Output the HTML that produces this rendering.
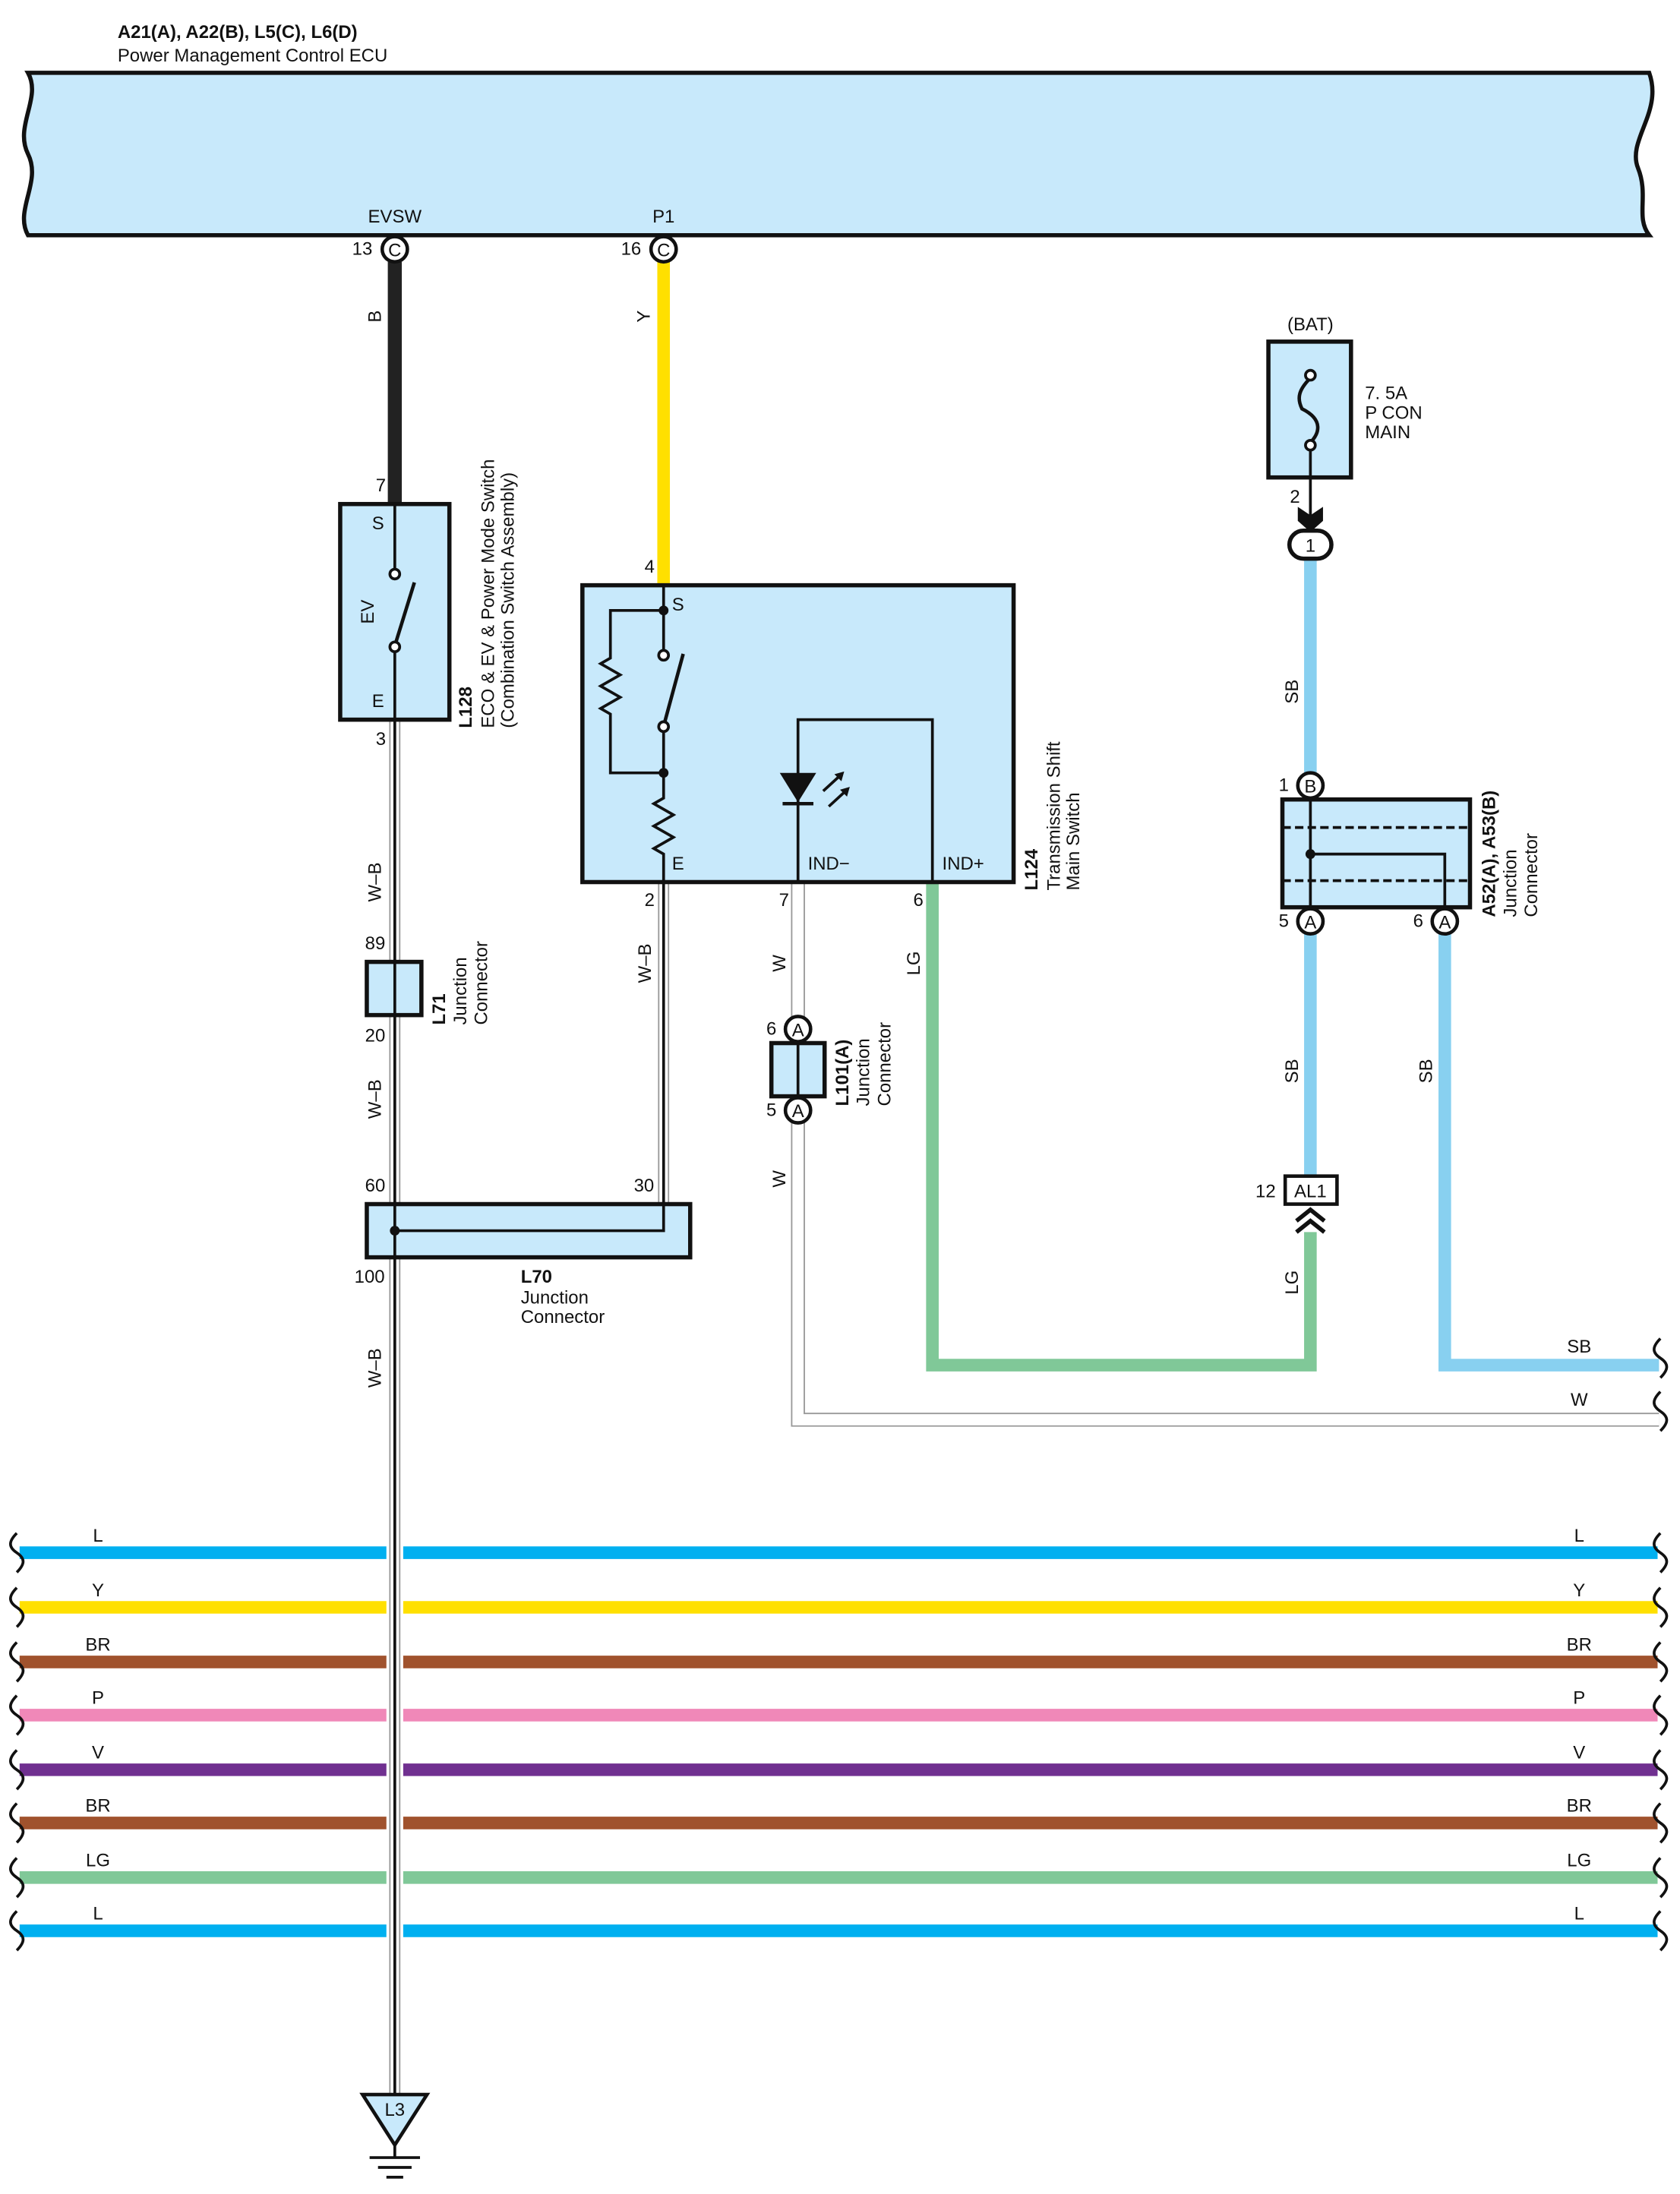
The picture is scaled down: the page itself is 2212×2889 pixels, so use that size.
<!DOCTYPE html>
<html><head><meta charset="utf-8"><style>
html,body{margin:0;padding:0;background:#fff}
svg{display:block}
text{font-family:"Liberation Sans",sans-serif;font-size:13px;fill:#111}
.b{font-weight:bold}
</style></head><body>
<svg width="2212" height="2889" viewBox="0 0 1200 1567" preserveAspectRatio="none" xmlns="http://www.w3.org/2000/svg">
<defs>
<g id="wav"><path d="M0,-14 C-6,-8 -6,-4 0,0 C6,4 6,8 0,14" fill="none" stroke="#111" stroke-width="2"/></g>
</defs>
<!-- Title -->
<text x="84" y="27" class="b">A21(A), A22(B), L5(C), L6(D)</text>
<text x="84" y="44">Power Management Control ECU</text>
<!-- ECU band -->
<path d="M20,52 L1178,52 C1188,80 1162,100 1170,120 C1178,140 1168,155 1178,168 L20,168 C10,150 30,130 20,110 C10,90 30,70 20,52 Z" fill="#c8e9fb" stroke="#111" stroke-width="3"/>
<text x="282" y="159" text-anchor="middle">EVSW</text>
<text x="474" y="159" text-anchor="middle">P1</text>
<!-- wires top -->
<line x1="282" y1="187" x2="282" y2="360" stroke="#222" stroke-width="10"/>
<line x1="474" y1="187" x2="474" y2="418" stroke="#ffe000" stroke-width="9"/>
<circle cx="282" cy="178" r="9" fill="#fff" stroke="#111" stroke-width="2.5"/><text x="282" y="183" text-anchor="middle" font-size="11">C</text>
<circle cx="474" cy="178" r="9" fill="#fff" stroke="#111" stroke-width="2.5"/><text x="474" y="183" text-anchor="middle" font-size="11">C</text>
<text x="266" y="182" text-anchor="end">13</text>
<text x="458" y="182" text-anchor="end">16</text>
<text transform="translate(272,226) rotate(-90)" text-anchor="middle">B</text>
<text transform="translate(464,226) rotate(-90)" text-anchor="middle">Y</text>

<!-- W-B wire left -->
<g>
<line x1="282" y1="514" x2="282" y2="1497" stroke="#999" stroke-width="8"/>
<line x1="282" y1="514" x2="282" y2="1497" stroke="#fff" stroke-width="6"/>
<line x1="282" y1="514" x2="282" y2="1497" stroke="#111" stroke-width="2"/>
</g>
<!-- W-B from L124 -->
<line x1="474" y1="630" x2="474" y2="860" stroke="#999" stroke-width="8"/>
<line x1="474" y1="630" x2="474" y2="860" stroke="#fff" stroke-width="6"/>
<line x1="474" y1="630" x2="474" y2="860" stroke="#111" stroke-width="2"/>
<!-- W wire -->
<path d="M570,630 L570,1014 L1185,1014" fill="none" stroke="#999" stroke-width="10"/>
<path d="M570,630 L570,1014 L1185,1014" fill="none" stroke="#fff" stroke-width="8"/>
<!-- LG wire -->
<path d="M666,630 L666,975 L936,975 L936,880" fill="none" stroke="#80c898" stroke-width="9"/>
<!-- SB wires -->
<line x1="936" y1="399" x2="936" y2="552" stroke="#88d0f0" stroke-width="9"/>
<line x1="936" y1="667" x2="936" y2="840" stroke="#88d0f0" stroke-width="9"/>
<path d="M1032,667 L1032,975 L1185,975" fill="none" stroke="#88d0f0" stroke-width="9"/>

<!-- L128 -->
<rect x="243" y="360" width="78" height="154" fill="#c8e9fb" stroke="#111" stroke-width="3"/>
<line x1="282" y1="360" x2="282" y2="406" stroke="#111" stroke-width="2"/>
<line x1="282" y1="466" x2="282" y2="514" stroke="#111" stroke-width="2"/>
<line x1="283" y1="458" x2="296" y2="416" stroke="#111" stroke-width="2.5"/>
<circle cx="282" cy="410" r="3.5" fill="#fff" stroke="#111" stroke-width="2"/>
<circle cx="282" cy="462" r="3.5" fill="#fff" stroke="#111" stroke-width="2"/>
<text x="270" y="378" text-anchor="middle">S</text>
<text x="270" y="505" text-anchor="middle">E</text>
<text transform="translate(267,437) rotate(-90)" text-anchor="middle">EV</text>
<text x="272" y="351" text-anchor="middle">7</text>
<text x="272" y="532" text-anchor="middle">3</text>
<text transform="translate(337,520) rotate(-90)" class="b">L128</text>
<text transform="translate(353,520) rotate(-90)">ECO &amp; EV &amp; Power Mode Switch</text>
<text transform="translate(367,520) rotate(-90)">(Combination Switch Assembly)</text>
<text transform="translate(272,630) rotate(-90)" text-anchor="middle">W–B</text>
<text transform="translate(272,785) rotate(-90)" text-anchor="middle">W–B</text>
<text transform="translate(272,977) rotate(-90)" text-anchor="middle">W–B</text>

<!-- L71 -->
<rect x="262" y="687" width="39" height="38" fill="#c8e9fb" stroke="#111" stroke-width="3"/>
<line x1="282" y1="687" x2="282" y2="725" stroke="#111" stroke-width="2"/>
<text x="268" y="678" text-anchor="middle">89</text>
<text x="268" y="744" text-anchor="middle">20</text>
<text transform="translate(318,732) rotate(-90)" class="b">L71</text>
<text transform="translate(333,732) rotate(-90)">Junction</text>
<text transform="translate(348,732) rotate(-90)">Connector</text>

<!-- L70 -->
<rect x="262" y="860" width="231" height="38" fill="#c8e9fb" stroke="#111" stroke-width="3"/>
<path d="M282,860 L282,898 M282,879 L474,879 L474,860" fill="none" stroke="#111" stroke-width="2"/>
<circle cx="282" cy="879" r="3.5" fill="#111"/>
<text x="268" y="851" text-anchor="middle">60</text>
<text x="460" y="851" text-anchor="middle">30</text>
<text x="264" y="916" text-anchor="middle">100</text>
<text x="372" y="916" class="b">L70</text>
<text x="372" y="931">Junction</text>
<text x="372" y="945">Connector</text>

<!-- L124 -->
<rect x="416" y="418" width="308" height="212" fill="#c8e9fb" stroke="#111" stroke-width="3"/>
<g fill="none" stroke="#111" stroke-width="2">
<path d="M474,418 L474,465"/>
<path d="M474,523 L474,570 L467,574 L481,582 L467,590 L481,598 L467,606 L474,610 L474,630"/>
<path d="M474,436 L436,436 L436,470 L429,474 L443,482 L429,490 L443,498 L429,506 L436,510 L436,552 L474,552"/>
<path d="M570,630 L570,514 L666,514 L666,630"/>
</g>
<line x1="475" y1="515" x2="488" y2="467" stroke="#111" stroke-width="2.5"/>
<circle cx="474" cy="436" r="3.5" fill="#111"/>
<circle cx="474" cy="552" r="3.5" fill="#111"/>
<circle cx="474" cy="468" r="3.5" fill="#fff" stroke="#111" stroke-width="2"/>
<circle cx="474" cy="519" r="3.5" fill="#fff" stroke="#111" stroke-width="2"/>
<path d="M557,552 L583,552 L570,573 Z" fill="#111"/>
<line x1="559" y1="574" x2="581" y2="574" stroke="#111" stroke-width="2.5"/>
<path d="M588,565 L600,554 M592,576 L604,565" stroke="#111" stroke-width="2"/>
<path d="M603,551 L596,553 L601,558 Z M607,562 L600,564 L605,569 Z" fill="#111"/>
<text x="480" y="436">S</text>
<text x="480" y="621">E</text>
<text x="577" y="621">IND−</text>
<text x="673" y="621">IND+</text>
<text x="464" y="409" text-anchor="middle">4</text>
<text x="464" y="647" text-anchor="middle">2</text>
<text x="560" y="647" text-anchor="middle">7</text>
<text x="656" y="647" text-anchor="middle">6</text>
<text transform="translate(741,636) rotate(-90)" class="b">L124</text>
<text transform="translate(757,636) rotate(-90)">Transmission Shift</text>
<text transform="translate(771,636) rotate(-90)">Main Switch</text>
<text transform="translate(465,688) rotate(-90)" text-anchor="middle">W–B</text>
<text transform="translate(561,688) rotate(-90)" text-anchor="middle">W</text>
<text transform="translate(561,842) rotate(-90)" text-anchor="middle">W</text>
<text transform="translate(657,688) rotate(-90)" text-anchor="middle">LG</text>

<!-- L101 -->
<rect x="551" y="745" width="38" height="38" fill="#c8e9fb" stroke="#111" stroke-width="3"/>
<line x1="570" y1="745" x2="570" y2="783" stroke="#111" stroke-width="2"/>
<circle cx="570" cy="735" r="9" fill="#fff" stroke="#111" stroke-width="2.5"/><text x="570" y="740" text-anchor="middle" font-size="11">A</text>
<circle cx="570" cy="793" r="9" fill="#fff" stroke="#111" stroke-width="2.5"/><text x="570" y="798" text-anchor="middle" font-size="11">A</text>
<text x="551" y="739" text-anchor="middle">6</text>
<text x="551" y="797" text-anchor="middle">5</text>
<text transform="translate(606,790) rotate(-90)" class="b">L101(A)</text>
<text transform="translate(621,790) rotate(-90)">Junction</text>
<text transform="translate(636,790) rotate(-90)">Connector</text>

<!-- Fuse -->
<text x="936" y="236" text-anchor="middle">(BAT)</text>
<rect x="906" y="244" width="59" height="97" fill="#c8e9fb" stroke="#111" stroke-width="3"/>
<path d="M936,270 C928,278 926,284 930,292 C946,300 942,310 936,316" fill="none" stroke="#111" stroke-width="2.5"/>
<circle cx="936" cy="268" r="3.5" fill="#fff" stroke="#111" stroke-width="2"/>
<circle cx="936" cy="318" r="3.5" fill="#fff" stroke="#111" stroke-width="2"/>
<line x1="936" y1="322" x2="936" y2="370" stroke="#111" stroke-width="2"/>
<path d="M927,362 L936,368 L945,362 L945,372 L936,380 L927,372 Z" fill="#111"/>
<text x="975" y="285">7. 5A</text>
<text x="975" y="299">P CON</text>
<text x="975" y="313">MAIN</text>
<text x="925" y="359" text-anchor="middle">2</text>
<rect x="921" y="379" width="30" height="20" rx="10" fill="#fff" stroke="#111" stroke-width="3"/>
<text x="936" y="394" text-anchor="middle" font-size="12">1</text>
<text transform="translate(927,494) rotate(-90)" text-anchor="middle">SB</text>

<!-- A52 -->
<rect x="916" y="571" width="134" height="77" fill="#c8e9fb" stroke="#111" stroke-width="3"/>
<line x1="916" y1="591" x2="1050" y2="591" stroke="#111" stroke-width="2" stroke-dasharray="6,3"/>
<line x1="916" y1="629" x2="1050" y2="629" stroke="#111" stroke-width="2" stroke-dasharray="6,3"/>
<path d="M936,571 L936,648 M936,610 L1032,610 L1032,648" fill="none" stroke="#111" stroke-width="2"/>
<circle cx="936" cy="610" r="3.5" fill="#111"/>
<circle cx="936" cy="561" r="9" fill="#fff" stroke="#111" stroke-width="2.5"/><text x="936" y="566" text-anchor="middle" font-size="11">B</text>
<circle cx="936" cy="658" r="9" fill="#fff" stroke="#111" stroke-width="2.5"/><text x="936" y="663" text-anchor="middle" font-size="11">A</text>
<circle cx="1032" cy="658" r="9" fill="#fff" stroke="#111" stroke-width="2.5"/><text x="1032" y="663" text-anchor="middle" font-size="11">A</text>
<text x="917" y="565" text-anchor="middle">1</text>
<text x="917" y="662" text-anchor="middle">5</text>
<text x="1013" y="662" text-anchor="middle">6</text>
<text transform="translate(1068,655) rotate(-90)" class="b">A52(A), A53(B)</text>
<text transform="translate(1083,655) rotate(-90)">Junction</text>
<text transform="translate(1098,655) rotate(-90)">Connector</text>
<text transform="translate(927,765) rotate(-90)" text-anchor="middle">SB</text>
<text transform="translate(1023,765) rotate(-90)" text-anchor="middle">SB</text>
<text transform="translate(927,916) rotate(-90)" text-anchor="middle">LG</text>
<!-- AL1 -->
<rect x="918" y="840" width="37" height="20" fill="#fff" stroke="#111" stroke-width="2.5"/>
<text x="936" y="855" text-anchor="middle">AL1</text>
<text x="904" y="855" text-anchor="middle">12</text>
<path d="M926,872 L936,864 L946,872 M926,880 L936,872 L946,880" fill="none" stroke="#111" stroke-width="3"/>
<text x="1128" y="966" text-anchor="middle">SB</text>
<text x="1128" y="1004" text-anchor="middle">W</text>
<use href="#wav" x="1186" y="970"/>
<use href="#wav" x="1186" y="1008"/>

<!-- Bus lines -->
<g stroke-width="9">
<path d="M14,1109 H276 M288,1109 H1184" stroke="#00b0f0"/>
<path d="M14,1148 H276 M288,1148 H1184" stroke="#ffe000"/>
<path d="M14,1187 H276 M288,1187 H1184" stroke="#a0522d"/>
<path d="M14,1225 H276 M288,1225 H1184" stroke="#f088b8"/>
<path d="M14,1264 H276 M288,1264 H1184" stroke="#703090"/>
<path d="M14,1302 H276 M288,1302 H1184" stroke="#a0522d"/>
<path d="M14,1341 H276 M288,1341 H1184" stroke="#80c898"/>
<path d="M14,1379 H276 M288,1379 H1184" stroke="#00b0f0"/>
</g>
<g text-anchor="middle">
<text x="70" y="1101">L</text><text x="1128" y="1101">L</text>
<text x="70" y="1140">Y</text><text x="1128" y="1140">Y</text>
<text x="70" y="1179">BR</text><text x="1128" y="1179">BR</text>
<text x="70" y="1217">P</text><text x="1128" y="1217">P</text>
<text x="70" y="1256">V</text><text x="1128" y="1256">V</text>
<text x="70" y="1294">BR</text><text x="1128" y="1294">BR</text>
<text x="70" y="1333">LG</text><text x="1128" y="1333">LG</text>
<text x="70" y="1371">L</text><text x="1128" y="1371">L</text>
</g>
<use href="#wav" x="12" y="1109"/><use href="#wav" x="1186" y="1109"/>
<use href="#wav" x="12" y="1148"/><use href="#wav" x="1186" y="1148"/>
<use href="#wav" x="12" y="1187"/><use href="#wav" x="1186" y="1187"/>
<use href="#wav" x="12" y="1225"/><use href="#wav" x="1186" y="1225"/>
<use href="#wav" x="12" y="1264"/><use href="#wav" x="1186" y="1264"/>
<use href="#wav" x="12" y="1302"/><use href="#wav" x="1186" y="1302"/>
<use href="#wav" x="12" y="1341"/><use href="#wav" x="1186" y="1341"/>
<use href="#wav" x="12" y="1379"/><use href="#wav" x="1186" y="1379"/>

<!-- Ground -->
<path d="M259,1496 L305,1496 L282,1532 Z" fill="#c8e9fb" stroke="#111" stroke-width="2.5"/>
<text x="282" y="1511" text-anchor="middle">L3</text>
<line x1="282" y1="1532" x2="282" y2="1541" stroke="#111" stroke-width="2"/>
<line x1="264" y1="1541" x2="300" y2="1541" stroke="#111" stroke-width="2"/>
<line x1="270" y1="1548" x2="294" y2="1548" stroke="#111" stroke-width="2"/>
<line x1="276" y1="1555" x2="288" y2="1555" stroke="#111" stroke-width="2"/>
</svg>
</body></html>
